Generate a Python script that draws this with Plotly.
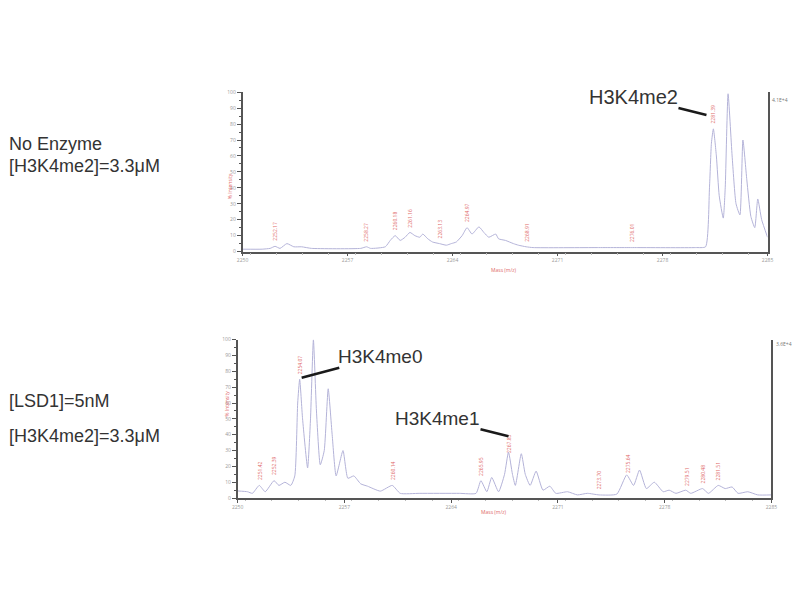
import numpy as np
import plotly.graph_objects as go

# ---------------- data ----------------
top_mz = [2250.00, 2251.31, 2251.84, 2252.17, 2252.50, 2252.96, 2253.42, 2253.94, 2254.60,
          2257.88, 2258.27, 2258.54, 2259.52, 2259.85, 2260.18, 2260.51, 2260.84, 2261.16,
          2261.49, 2261.82, 2262.02, 2262.35, 2262.67, 2263.13, 2263.59, 2263.92, 2264.25,
          2264.64, 2264.97, 2265.30, 2265.76, 2266.09, 2266.42, 2266.88, 2267.07, 2267.53,
          2268.06, 2268.39, 2268.91, 2269.37, 2273.64, 2276.01, 2276.27, 2280.21, 2280.87,
          2281.13, 2281.26, 2281.39, 2281.59, 2281.78, 2282.05, 2282.18, 2282.37, 2282.64,
          2282.90, 2283.16, 2283.36, 2283.62, 2283.89, 2284.15, 2284.35, 2284.61, 2285.00]
top_int = [1.5, 1.5, 2, 3.3, 2, 5, 3, 3, 2,
           2, 3, 2, 3, 7, 10, 7, 9, 12,
           10, 9, 11, 8, 6, 5, 4, 5, 6,
           10, 15, 11, 15.5, 12, 9, 11, 8, 7,
           5, 4, 3, 2.5, 2.5, 2.5, 2.5, 2.5, 3,
           40, 68, 77, 60, 35, 21, 40, 99, 60,
           30, 23, 70, 45, 22, 15, 33, 20, 9]

bot_mz = [2250.00, 2250.65, 2250.97, 2251.42, 2251.81, 2252.39, 2252.71, 2253.10, 2253.49,
          2253.75, 2253.94, 2254.07, 2254.26, 2254.59, 2254.78, 2254.97, 2255.17, 2255.42,
          2255.68, 2255.94, 2256.20, 2256.46, 2256.91, 2257.23, 2257.62, 2258.07, 2258.52,
          2259.36, 2260.14, 2260.66, 2261.95, 2264.53, 2265.63, 2265.95, 2266.34, 2266.66,
          2267.11, 2267.50, 2267.76, 2268.02, 2268.21, 2268.60, 2268.86, 2269.18, 2269.57,
          2270.02, 2270.47, 2270.86, 2271.63, 2272.28, 2272.93, 2273.70, 2274.86, 2275.51,
          2275.96, 2276.35, 2276.80, 2277.32, 2277.90, 2278.29, 2278.74, 2279.38, 2279.71,
          2280.48, 2280.87, 2281.51, 2281.97, 2282.42, 2282.81, 2283.45, 2284.10, 2285.00]
bot_int = [4.5, 4, 3, 8, 4, 11, 8, 10, 8,
           14, 60, 75, 50, 19, 50, 100, 55, 21,
           30, 69, 40, 14, 30, 12.5, 14, 9, 7.5,
           4.4, 8, 3, 3, 3, 3, 11, 4, 13,
           4, 15, 29, 15, 8, 28, 15, 8, 17,
           5, 7.5, 3, 4, 2, 3, 2, 2.5, 14.6,
           8, 17.7, 6, 10, 4, 5, 3, 5, 3,
           6, 3, 8, 6, 7, 3, 4, 2, 2]

top_peak_labels = [2252.17, 2258.27, 2260.18, 2261.16, 2263.13, 2264.97, 2268.91, 2276.01, 2281.39]
bot_peak_labels = [2251.42, 2252.39, 2254.07, 2260.14, 2265.95, 2267.83, 2273.70, 2275.64,
                   2279.51, 2280.48, 2281.51]

x_ticks = [2250, 2257, 2264, 2271, 2278, 2285]
y_ticks = [0, 10, 20, 30, 40, 50, 60, 70, 80, 90, 100]
top_max_label = "4.1E+4"
bot_max_label = "3.6E+4"

# ---------------- figure ----------------
W, H = 800, 600
OFF = 8  # page offset of the plot div


def fx(px):
    return (px - OFF) / W


def fy(py):
    return 1 - (py - OFF) / H


LINE = "#b4b3d8"
RED = "#e06868"
TICKC = "#999999"
AXC = "#555555"

fig = go.Figure()
fig.add_trace(go.Scatter(x=top_mz, y=top_int, mode="lines",
                         line=dict(color=LINE, width=1, shape="spline", smoothing=0.5),
                         xaxis="x", yaxis="y", showlegend=False, hoverinfo="skip"))
fig.add_trace(go.Scatter(x=bot_mz, y=bot_int, mode="lines",
                         line=dict(color=LINE, width=1, shape="spline", smoothing=0.5),
                         xaxis="x2", yaxis="y2", showlegend=False, hoverinfo="skip"))


def xax(domain, anchor):
    return dict(domain=domain, anchor=anchor, range=[2250, 2285], tickvals=x_ticks,
                ticktext=[str(v) for v in x_ticks], showgrid=False, zeroline=False,
                showline=True, linecolor=AXC, linewidth=1.5, ticks="outside", ticklen=3,
                tickcolor=AXC, tickfont=dict(size=5, color=TICKC),
                minor=dict(dtick=1.75, ticks="outside", ticklen=1.5, tickcolor="#bbbbbb"))


def yax(domain, anchor):
    return dict(domain=domain, anchor=anchor, range=[0, 100], tickvals=y_ticks,
                ticktext=[str(v) for v in y_ticks], showgrid=False, zeroline=False,
                showline=True, mirror=True, linecolor=AXC, linewidth=1.5,
                ticks="outside", ticklen=4, tickcolor=AXC,
                tickfont=dict(size=5, color=TICKC),
                minor=dict(dtick=5, ticks="outside", ticklen=2, tickcolor=AXC))


annotations = []


def peak_labels(mzs, xs, ys, xr, yr):
    for m in mzs:
        yv = float(np.interp(m, xs, ys)) + 2
        annotations.append(dict(x=m, y=yv, xref=xr, yref=yr, text=f"{m:.2f}",
                                textangle=-90, showarrow=False, yanchor="bottom",
                                xanchor="center", font=dict(size=5, color=RED)))


peak_labels(top_peak_labels, top_mz, top_int, "x", "y")
peak_labels(bot_peak_labels, bot_mz, bot_int, "x2", "y2")

FONT = "Liberation Sans"
TXT = "#333333"

# species call-outs
for txt, xr, yr, xv, yv, ax, ay in [
    ("H3K4me2", "x", "y", 2280.93, 85.7, -73, -18),
    ("H3K4me0", "x2", "y2", 2254.20, 76.0, 79, -21),
    ("H3K4me1", "x2", "y2", 2267.76, 39.0, -71, -18),
]:
    annotations.append(dict(x=xv, y=yv, xref=xr, yref=yr, text=txt, showarrow=True,
                            arrowhead=0, arrowwidth=2.6, arrowcolor="#1a1a1a",
                            ax=ax, ay=ay, borderpad=0,
                            font=dict(family=FONT, size=20 if txt == "H3K4me2" else 19,
                                      color=TXT)))

# condition text on the left
for txt, ypx in [("No Enzyme", 142), ("[H3K4me2]=3.3μM", 165),
                 ("[LSD1]=5nM", 402), ("[H3K4me2]=3.3μM", 437)]:
    annotations.append(dict(x=fx(1), y=fy(ypx), xref="paper", yref="paper",
                            text=txt, showarrow=False, xanchor="left", yanchor="middle",
                            font=dict(family=FONT, size=18, color=TXT)))

# axis titles (small red, instrument style)
for xv, yv, txt, ang in [
    (fx(223), fy(170), "% Intensity", -90),
    (fx(219), fy(420), "% Intensity", -90),
    (fx(505), fy(270), "Mass (m/z)", 0),
    (fx(495), fy(519), "Mass (m/z)", 0),
]:
    annotations.append(dict(x=xv, y=yv, xref="paper", yref="paper", text=txt,
                            textangle=ang, showarrow=False,
                            font=dict(size=5, color=RED)))

# max intensity labels (top right)
annotations.append(dict(x=fx(776), y=fy(93), xref="paper", yref="paper",
                        text=top_max_label, showarrow=False, xanchor="left",
                        font=dict(size=5, color="#777777")))
annotations.append(dict(x=fx(780), y=fy(344), xref="paper", yref="paper",
                        text=bot_max_label, showarrow=False, xanchor="left",
                        font=dict(size=5, color="#777777")))

fig.update_layout(
    width=W, height=H,
    margin=dict(l=0, r=0, t=0, b=0),
    paper_bgcolor="white", plot_bgcolor="white",
    xaxis=xax([fx(240), fx(773)], "y"),
    yaxis=yax([fy(251), fy(90)], "x"),
    xaxis2=xax([fx(235), fx(777)], "y2"),
    yaxis2=yax([fy(500), fy(340)], "x2"),
    annotations=annotations,
    showlegend=False,
)

fig.write_html("out.html")
